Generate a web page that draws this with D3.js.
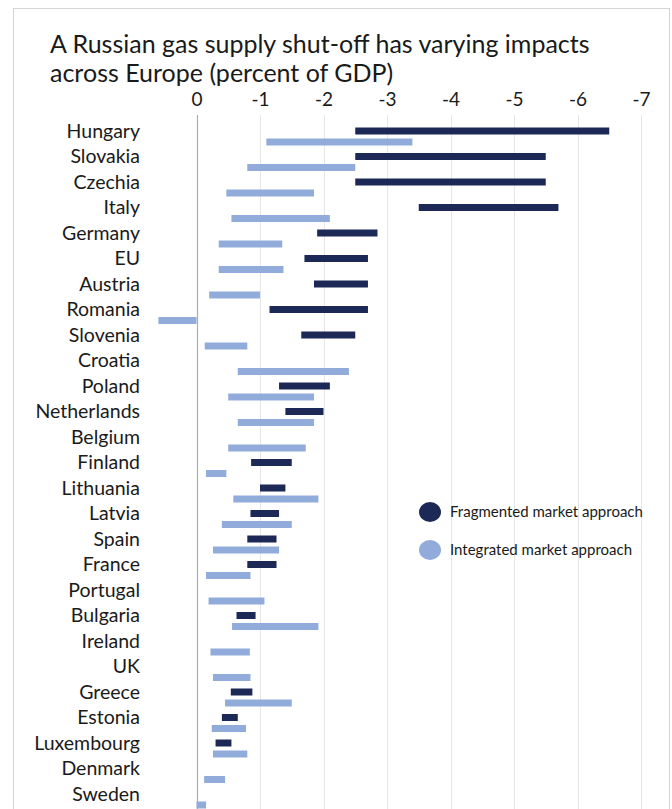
<!DOCTYPE html>
<html>
<head>
<meta charset="utf-8">
<script src="https://cdn.jsdelivr.net/npm/d3@7"></script>
<style>
  html, body { margin: 0; padding: 0; background: #fff; }
  svg { display: block; }
</style>
</head>
<body>
<svg id="chart" width="672" height="809"></svg>
<script>
const titleLines = ["A Russian gas supply shut-off has varying impacts", "across Europe (percent of GDP)"];
const categories = ["Hungary","Slovakia","Czechia","Italy","Germany","EU","Austria","Romania","Slovenia","Croatia","Poland","Netherlands","Belgium","Finland","Lithuania","Latvia","Spain","France","Portugal","Bulgaria","Ireland","UK","Greece","Estonia","Luxembourg","Denmark","Sweden"];
// Fragmented market approach: [from, to]
const fragmentedFrom = [-2.5,-2.5,-2.5,-3.5,-1.9,-1.7,-1.85,-1.15,-1.65,null,-1.3,-1.4,null,-0.86,-1.0,-0.85,-0.8,-0.8,null,-0.63,null,null,-0.54,-0.4,-0.3,null,null];
const fragmentedTo   = [-6.5,-5.5,-5.5,-5.7,-2.85,-2.7,-2.7,-2.7,-2.5,null,-2.1,-2.0,null,-1.5,-1.4,-1.3,-1.26,-1.26,null,-0.93,null,null,-0.88,-0.65,-0.55,null,null];
// Integrated market approach: [from, to]
const integratedFrom = [-1.1,-0.8,-0.47,-0.55,-0.35,-0.35,-0.2,0.6,-0.13,-0.65,-0.5,-0.65,-0.5,-0.15,-0.58,-0.4,-0.26,-0.15,-0.19,-0.56,-0.22,-0.26,-0.45,-0.24,-0.26,-0.12,0];
const integratedTo   = [-3.4,-2.5,-1.85,-2.1,-1.35,-1.37,-1.0,0,-0.8,-2.4,-1.85,-1.85,-1.72,-0.47,-1.92,-1.5,-1.3,-0.85,-1.07,-1.92,-0.84,-0.85,-1.5,-0.78,-0.8,-0.45,-0.15];
const tickValues = [0,-1,-2,-3,-4,-5,-6,-7];
const tickLabels = ["0","-1","-2","-3","-4","-5","-6","-7"];
const seriesNames = ["Fragmented market approach","Integrated market approach"];
const colors = ["#1c2856","#91abda"];

const svg = d3.select("#chart");
const font = "Lato, 'Open Sans', sans-serif";

// frame
svg.append("rect").attr("x",13.5).attr("y",8.5).attr("width",656).attr("height",820)
  .attr("fill","none").attr("stroke","#d4d4d4").attr("stroke-width",1);

// title
svg.append("g").selectAll("text").data(titleLines).join("text")
  .attr("x",50).attr("y",(d,i)=>53+i*29)
  .attr("font-family",font).attr("font-size",25).attr("fill","#1a1a1a")
  .text(d=>d);

const x = d3.scaleLinear().domain([0,-7]).range([196.5,641]);
const y = d3.scalePoint().domain(categories).range([131,794]);

// gridlines
svg.append("g").selectAll("line").data(tickValues.filter(v=>v!==0)).join("line")
  .attr("x1",d=>Math.round(x(d))+0.5).attr("x2",d=>Math.round(x(d))+0.5)
  .attr("y1",115).attr("y2",809)
  .attr("stroke","#e6e6e6").attr("stroke-width",1);

// top axis labels
const axis = d3.axisTop(x).tickValues(tickValues).tickFormat((d,i)=>tickLabels[i]).tickSize(0).tickPadding(0);
const ax = svg.append("g").attr("transform","translate(0,106)").call(axis);
ax.select(".domain").remove();
ax.selectAll("text").attr("font-family",font).attr("font-size",19).attr("fill","#1a1a1a");

// zero axis line
svg.append("line").attr("x1",Math.round(x(0))+0.5).attr("x2",Math.round(x(0))+0.5)
  .attr("y1",115).attr("y2",809).attr("stroke","#a8aeb0").attr("stroke-width",1.2);

// category labels
svg.append("g").selectAll("text").data(categories).join("text")
  .attr("x",140).attr("y",d=>y(d)).attr("dy","0.35em")
  .attr("text-anchor","end")
  .attr("font-family",font).attr("font-size",19.5).attr("fill","#1a1a1a")
  .text(d=>d);

// integrated bars
const intData = categories.map((c,i)=>({c, a:integratedFrom[i], b:integratedTo[i]})).filter(d=>d.a!==null);
svg.append("g").selectAll("rect").data(intData).join("rect")
  .attr("x",d=>Math.min(x(d.a),x(d.b))).attr("width",d=>Math.abs(x(d.b)-x(d.a)))
  .attr("y",d=>y(d.c)+11-3.5).attr("height",7)
  .attr("fill",colors[1]);

// fragmented bars
const fragData = categories.map((c,i)=>({c, a:fragmentedFrom[i], b:fragmentedTo[i]})).filter(d=>d.a!==null);
svg.append("g").selectAll("rect").data(fragData).join("rect")
  .attr("x",d=>Math.min(x(d.a),x(d.b))).attr("width",d=>Math.abs(x(d.b)-x(d.a)))
  .attr("y",d=>y(d.c)-3.5).attr("height",7)
  .attr("fill",colors[0]);

// legend
const leg = svg.append("g").selectAll("g").data(seriesNames).join("g")
  .attr("transform",(d,i)=>`translate(430,${512+i*38})`);
leg.append("ellipse").attr("rx",11).attr("ry",10).attr("fill",(d,i)=>colors[i]);
leg.append("text").attr("x",20).attr("dy","0.35em")
  .attr("font-family",font).attr("font-size",15).attr("fill","#1a1a1a").text(d=>d);
</script>
</body>
</html>
